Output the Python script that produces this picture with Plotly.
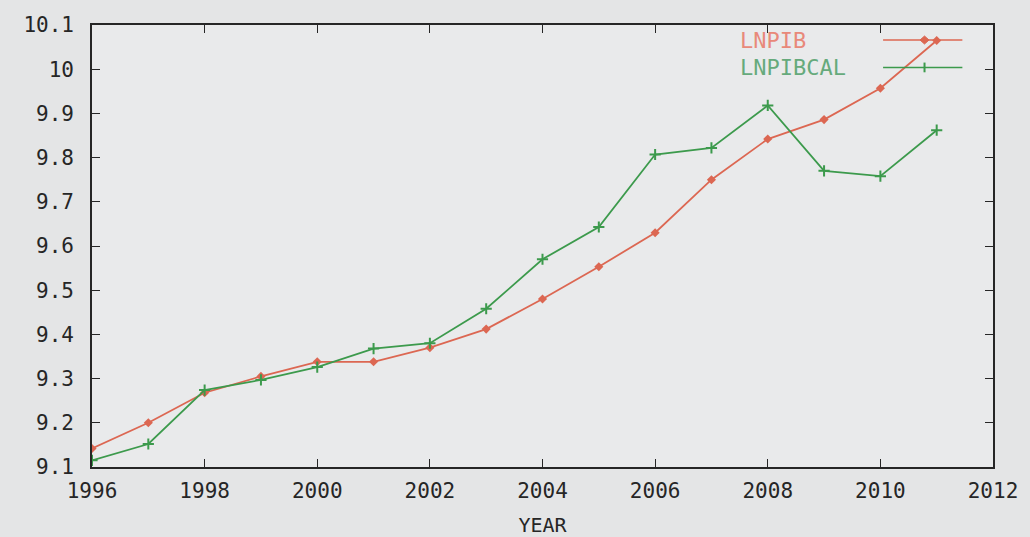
import plotly.graph_objects as go

# Observed vs fitted log GDP by year
years = list(range(1996, 2012))
lnpib = [9.142, 9.200, 9.268, 9.305, 9.338, 9.338, 9.370, 9.412, 9.480,
         9.553, 9.630, 9.750, 9.842, 9.886, 9.957, 10.065]
lnpibcal = [9.115, 9.152, 9.274, 9.297, 9.326, 9.368, 9.380, 9.458, 9.570,
            9.643, 9.807, 9.822, 9.918, 9.770, 9.758, 9.862]

x_ticks = list(range(1996, 2013, 2))
y_ticks = [9.1, 9.2, 9.3, 9.4, 9.5, 9.6, 9.7, 9.8, 9.9, 10.0, 10.1]
y_tick_text = ["9.1", "9.2", "9.3", "9.4", "9.5", "9.6", "9.7", "9.8", "9.9", "10", "10.1"]

RED = "#dc6752"
GREEN = "#3c9a4c"
INK = "#262626"
FONT = "DejaVu Sans Mono"

fig = go.Figure()
fig.add_trace(go.Scatter(
    x=years, y=lnpib, mode="lines+markers", name="LNPIB",
    line=dict(color=RED, width=1.8),
    marker=dict(symbol="diamond", size=7, color=RED),
))
fig.add_trace(go.Scatter(
    x=years, y=lnpibcal, mode="lines+markers", name="LNPIBCAL",
    line=dict(color=GREEN, width=1.8),
    marker=dict(symbol="cross-thin", size=8, line=dict(color=GREEN, width=2)),
))

# gnuplot-style key: text on the left, sample on the right
key_rows = [("LNPIB", RED, "#e8897a", 0.966), ("LNPIBCAL", GREEN, "#66aa7c", 0.904)]
for label, col, txt_col, yp in key_rows:
    fig.add_annotation(xref="paper", yref="paper", x=0.717, y=yp, text=label,
                       showarrow=False, xanchor="left", yanchor="middle",
                       font=dict(family=FONT, size=22, color=txt_col))
    fig.add_shape(type="line", xref="paper", yref="paper", x0=0.878, x1=0.966,
                  y0=yp, y1=yp, line=dict(color=col, width=1.5))
    xm = 0.924
    if label == "LNPIB":
        dx, dy = 0.005, 0.009
        fig.add_shape(type="path", xref="paper", yref="paper",
                      path=f"M {xm-dx},{yp} L {xm},{yp+dy} L {xm+dx},{yp} L {xm},{yp-dy} Z",
                      fillcolor=col, line=dict(color=col, width=1))
    else:
        dy = 0.011
        fig.add_shape(type="line", xref="paper", yref="paper", x0=xm, x1=xm,
                      y0=yp - dy, y1=yp + dy, line=dict(color=col, width=2))

axis_common = dict(
    showgrid=False, zeroline=False, showline=True, linecolor=INK, linewidth=1.6,
    mirror="allticks", ticks="inside", ticklen=8, tickwidth=1.4, tickcolor=INK,
    tickfont=dict(family=FONT, size=21, color=INK), automargin=False,
)

fig.update_layout(
    width=1030, height=537,
    margin=dict(l=92, r=37, t=25, b=70),
    paper_bgcolor="#e4e5e6",
    plot_bgcolor="#e9eaeb",
    showlegend=False,
    xaxis=dict(range=[1996, 2012], tickvals=x_ticks, ticktext=[str(v) for v in x_ticks],
               ticklabelstandoff=4,
               title=dict(text="YEAR", font=dict(family=FONT, size=20, color=INK), standoff=18),
               **axis_common),
    yaxis=dict(range=[9.1, 10.1], tickvals=y_ticks, ticktext=y_tick_text,
               ticklabelstandoff=12, **axis_common),
)

fig.write_html("out.html")
